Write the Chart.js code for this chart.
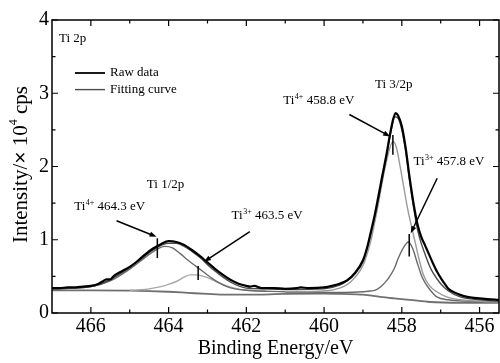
<!DOCTYPE html>
<html><head><meta charset="utf-8">
<script src="https://cdn.jsdelivr.net/npm/chart.js@4"></script>
<style>html,body{margin:0;padding:0;background:#fff}#wrap{width:500px;height:363px}</style>
</head><body><div id="wrap"><canvas id="c" width="500" height="363"></canvas></div>
<script>
// ---- tick labels ----
const xTicks = [466, 464, 462, 460, 458, 456];
const xMinor = [465, 463, 461, 459, 457];
const yTicks = [0, 1, 2, 3, 4];
const yMinor = [0.5, 1.5, 2.5, 3.5];

// ---- raw data (binding energy eV / intensity x10^4 cps) ----
const rawE = [467.0,466.8,466.6,466.4,466.2,466.0,465.8,465.7,465.6,465.5,465.4,465.2,465.0,464.8,464.6,464.4,464.2,464.0,463.8,463.6,463.4,463.2,463.0,462.8,462.6,462.4,462.2,462.0,461.9,461.8,461.6,461.3,461.0,460.7,460.6,460.4,460.0,459.8,459.6,459.4,459.2,459.0,458.9,458.8,458.7,458.6,458.5,458.4,458.3,458.22,458.16,458.1,458.0,457.9,457.8,457.7,457.6,457.5,457.4,457.3,457.2,457.1,457.0,456.9,456.8,456.6,456.4,456.2,456.0,455.8,455.5];
const rawI = [0.34,0.34,0.35,0.35,0.36,0.37,0.40,0.43,0.46,0.46,0.51,0.57,0.63,0.71,0.80,0.88,0.94,0.98,0.97,0.93,0.86,0.78,0.69,0.60,0.52,0.45,0.40,0.37,0.36,0.37,0.34,0.34,0.33,0.34,0.35,0.34,0.35,0.37,0.40,0.45,0.55,0.72,0.88,1.10,1.33,1.60,1.88,2.15,2.45,2.65,2.73,2.70,2.55,2.25,1.85,1.50,1.22,1.04,0.92,0.80,0.68,0.57,0.48,0.40,0.33,0.27,0.23,0.21,0.20,0.19,0.18];

// ---- fitting envelope ----
const fitE = [467.0,466.0,465.6,465.2,464.8,464.4,464.0,463.8,463.6,463.4,463.2,463.0,462.8,462.6,462.4,462.2,462.0,461.5,461.0,460.0,459.6,459.4,459.2,459.0,458.8,458.6,458.4,458.3,458.18,458.1,458.0,457.9,457.8,457.7,457.6,457.5,457.4,457.3,457.2,457.0,456.8,456.5,456.0,455.5];
const fitI = [0.33,0.36,0.43,0.55,0.70,0.86,0.95,0.95,0.91,0.84,0.76,0.66,0.57,0.49,0.42,0.37,0.34,0.33,0.32,0.33,0.38,0.44,0.54,0.70,1.07,1.56,2.12,2.42,2.68,2.66,2.50,2.20,1.80,1.45,1.15,0.95,0.80,0.66,0.55,0.40,0.30,0.22,0.18,0.16];

// ---- Ti4+ 2p3/2 component ----
const ti4p32E = [461.0,460.0,459.6,459.4,459.2,459.0,458.8,458.7,458.6,458.5,458.4,458.3,458.23,458.15,458.05,457.95,457.85,457.75,457.65,457.55,457.45,457.3,457.1,456.85,456.5,456.0,455.5];
const ti4p32I = [0.29,0.30,0.34,0.39,0.49,0.65,0.98,1.23,1.50,1.80,2.06,2.27,2.34,2.28,2.02,1.72,1.42,1.18,0.95,0.72,0.53,0.38,0.29,0.22,0.18,0.16,0.15];

// ---- Ti3+ 2p3/2 component ----
const ti3p32E = [461.0,459.5,459.0,458.8,458.65,458.5,458.35,458.2,458.09,457.95,457.83,457.72,457.6,457.5,457.4,457.25,457.1,456.8,456.3,455.5];
const ti3p32I = [0.28,0.28,0.29,0.30,0.32,0.38,0.47,0.60,0.75,0.90,0.97,0.88,0.68,0.52,0.41,0.30,0.22,0.18,0.16,0.15];

// ---- Ti4+ 2p1/2 component ----
const ti4p12E = [467.0,466.0,465.5,465.0,464.6,464.3,464.1,463.9,463.7,463.5,463.3,463.1,462.9,462.7,462.5,462.3,462.0,461.0];
const ti4p12I = [0.33,0.36,0.44,0.60,0.76,0.87,0.91,0.89,0.81,0.72,0.64,0.56,0.48,0.41,0.36,0.33,0.31,0.29];

// ---- Ti3+ 2p1/2 component ----
const ti3p12E = [465.0,464.6,464.4,464.2,464.0,463.8,463.6,463.45,463.3,463.1,462.9,462.7,462.5,462.3,462.0,461.5];
const ti3p12I = [0.31,0.32,0.34,0.36,0.39,0.43,0.49,0.52,0.52,0.50,0.46,0.41,0.37,0.34,0.31,0.30];

// ---- background ----
const bgE = [467.0,466.0,465.0,464.5,464.0,463.5,463.0,462.5,462.0,461.0,460.0,459.5,459.0,458.56,458.2,457.8,457.27,456.5,455.5];
const bgI = [0.31,0.31,0.305,0.30,0.29,0.275,0.26,0.25,0.25,0.26,0.265,0.26,0.25,0.22,0.20,0.18,0.15,0.14,0.14];

// ---- texts ----
const xTitle = 'Binding Energy/eV';
const yTitleParts = ['Intensity/', '×', ' 10', '4', ' cps'];
const legendLabels = ['Raw data', 'Fitting curve'];
const plainNotes = [
  {text: 'Ti 2p', x: 466.82, y: 3.70},
  {text: 'Ti 1/2p', x: 464.56, y: 1.71},
  {text: 'Ti 3/2p', x: 458.69, y: 3.07}
];
const ionNotes = [
  {ion: 'Ti', sup: '4+', rest: ' 464.3 eV', x: 466.43, y: 1.40},
  {ion: 'Ti', sup: '3+', rest: ' 463.5 eV', x: 462.38, y: 1.29},
  {ion: 'Ti', sup: '4+', rest: ' 458.8 eV', x: 461.05, y: 2.86},
  {ion: 'Ti', sup: '3+', rest: ' 457.8 eV', x: 457.70, y: 2.02}
];
const arrows = [
  {x1: 465.34, y1: 1.26, x2: 464.31, y2: 1.04},
  {x1: 461.91, y1: 1.11, x2: 463.09, y2: 0.70},
  {x1: 459.35, y1: 2.71, x2: 458.30, y2: 2.41},
  {x1: 457.09, y1: 1.84, x2: 457.77, y2: 1.09}
];
const markers = [
  {x: 464.29, y1: 1.02, y2: 0.75},
  {x: 463.24, y1: 0.64, y2: 0.45},
  {x: 458.23, y1: 2.43, y2: 2.16},
  {x: 457.81, y1: 1.08, y2: 0.77}
];

const FONT = '"Liberation Serif", "Times New Roman", serif';
function pts(E, I) { const n = Math.min(E.length, I.length); const o = []; for (let i = 0; i < n; i++) o.push({x: E[i], y: I[i]}); return o; }

function ds(label, E, I, color, width) {
  return {label, data: pts(E, I), borderColor: color, borderWidth: width, pointRadius: 0,
          fill: false, cubicInterpolationMode: 'monotone', borderJoinStyle: 'round'};
}

const datasets = [
  ds('Raw data', rawE, rawI, '#000000', 2.2),
  ds('Fitting curve', fitE, fitI, '#4a4a4a', 1.4),
  ds('Ti4+ 2p3/2', ti4p32E, ti4p32I, '#9a9a9a', 1.4),
  ds('Ti3+ 2p3/2', ti3p32E, ti3p32I, '#6a6a6a', 1.4),
  ds('Ti4+ 2p1/2', ti4p12E, ti4p12I, '#6a6a6a', 1.4),
  ds('Ti3+ 2p1/2', ti3p12E, ti3p12I, '#a8a8a8', 1.4),
  ds('Background', bgE, bgI, '#707070', 1.8)
];

function drawArrow(ctx, x1, y1, x2, y2) {
  const a = Math.atan2(y2 - y1, x2 - x1), L = 7, W = 2.6;
  ctx.beginPath(); ctx.moveTo(x1, y1); ctx.lineTo(x2 - L * 0.7 * Math.cos(a), y2 - L * 0.7 * Math.sin(a)); ctx.stroke();
  ctx.beginPath(); ctx.moveTo(x2, y2);
  ctx.lineTo(x2 - L * Math.cos(a) + W * Math.sin(a), y2 - L * Math.sin(a) - W * Math.cos(a));
  ctx.lineTo(x2 - L * Math.cos(a) - W * Math.sin(a), y2 - L * Math.sin(a) + W * Math.cos(a));
  ctx.closePath(); ctx.fill();
}

const deco = {
  id: 'deco',
  afterDraw(chart) {
    const ctx = chart.ctx, a = chart.chartArea, xs = chart.scales.x, ys = chart.scales.y;
    ctx.save();
    ctx.strokeStyle = '#000'; ctx.fillStyle = '#000';
    // frame
    ctx.lineWidth = 1.5;
    ctx.strokeRect(a.left, a.top, a.right - a.left, a.bottom - a.top);
    // ticks (inward, mirrored)
    ctx.lineWidth = 1.2;
    const tx = (v, len) => { const p = xs.getPixelForValue(v); ctx.beginPath(); ctx.moveTo(p, a.bottom); ctx.lineTo(p, a.bottom - len); ctx.moveTo(p, a.top); ctx.lineTo(p, a.top + len); ctx.stroke(); };
    const ty = (v, len) => { const p = ys.getPixelForValue(v); ctx.beginPath(); ctx.moveTo(a.left, p); ctx.lineTo(a.left + len, p); ctx.moveTo(a.right, p); ctx.lineTo(a.right - len, p); ctx.stroke(); };
    xTicks.forEach(v => tx(v, 6)); xMinor.forEach(v => tx(v, 3.5));
    yTicks.forEach(v => ty(v, 6)); yMinor.forEach(v => ty(v, 3.5));
    // y axis title (rotated, with superscript)
    ctx.save();
    ctx.translate(27, (a.top + a.bottom) / 2 - 2);
    ctx.rotate(-Math.PI / 2);
    ctx.textBaseline = 'alphabetic'; ctx.textAlign = 'left';
    const fonts = ['21px ' + FONT, '21px "Liberation Sans", Arial, sans-serif', '21px ' + FONT, '12px ' + FONT, '21px ' + FONT];
    const dys = [0, 0, 0, -10, 0];
    let tot = 0; const ws = [];
    yTitleParts.forEach((t, i) => { ctx.font = fonts[i]; const w = ctx.measureText(t).width; ws.push(w); tot += w; });
    let cx = -tot / 2;
    yTitleParts.forEach((t, i) => { ctx.font = fonts[i]; ctx.fillText(t, cx, dys[i]); cx += ws[i]; });
    ctx.restore();
    // legend
    ctx.font = '13px ' + FONT; ctx.textBaseline = 'middle'; ctx.textAlign = 'left';
    legendLabels.forEach((lab, i) => {
      const y = a.top + 53 + i * 16.6;
      ctx.strokeStyle = datasets[i].borderColor; ctx.lineWidth = i === 0 ? 1.8 : 1.4;
      ctx.beginPath(); ctx.moveTo(a.left + 23, y); ctx.lineTo(a.left + 53, y); ctx.stroke();
      ctx.fillStyle = '#000'; ctx.fillText(lab, a.left + 58, y);
    });
    ctx.strokeStyle = '#000'; ctx.fillStyle = '#000';
    // plain notes
    ctx.textBaseline = 'alphabetic';
    plainNotes.forEach(n => { ctx.font = '13px ' + FONT; ctx.fillText(n.text, xs.getPixelForValue(n.x), ys.getPixelForValue(n.y)); });
    // ion notes with superscript
    ionNotes.forEach(n => {
      let x = xs.getPixelForValue(n.x); const y = ys.getPixelForValue(n.y);
      ctx.font = '13px ' + FONT; ctx.fillText(n.ion, x, y); x += ctx.measureText(n.ion).width + 0.5;
      ctx.font = '8px ' + FONT; ctx.fillText(n.sup, x, y - 5); x += ctx.measureText(n.sup).width;
      ctx.font = '13px ' + FONT; ctx.fillText(n.rest, x, y);
    });
    // arrows
    ctx.lineWidth = 1.5;
    arrows.forEach(r => drawArrow(ctx, xs.getPixelForValue(r.x1), ys.getPixelForValue(r.y1), xs.getPixelForValue(r.x2), ys.getPixelForValue(r.y2)));
    // markers
    ctx.lineWidth = 1.5;
    markers.forEach(m => { const p = xs.getPixelForValue(m.x); ctx.beginPath(); ctx.moveTo(p, ys.getPixelForValue(m.y1)); ctx.lineTo(p, ys.getPixelForValue(m.y2)); ctx.stroke(); });
    ctx.restore();
  }
};

new Chart(document.getElementById('c'), {
  type: 'line',
  data: {datasets},
  plugins: [deco],
  options: {
    responsive: false, animation: false, devicePixelRatio: 1,
    layout: {padding: {top: 20, right: 1, left: 0, bottom: 0}},
    plugins: {legend: {display: false}, tooltip: {enabled: false}},
    scales: {
      x: {type: 'linear', reverse: true, min: 455.5, max: 467,
        afterBuildTicks: s => { s.ticks = xTicks.map(v => ({value: v})); },
        afterFit: s => { s.height = 50; },
        grid: {display: false, drawTicks: false}, border: {display: false},
        ticks: {font: {family: FONT, size: 20}, color: '#000', padding: 2, maxRotation: 0, autoSkip: false, callback: v => String(v)},
        title: {display: true, text: xTitle, font: {family: FONT, size: 20}, color: '#000', padding: {top: 0, bottom: 2}}
      },
      y: {type: 'linear', min: 0, max: 4,
        afterBuildTicks: s => { s.ticks = yTicks.map(v => ({value: v})); },
        afterFit: s => { s.width = 52; },
        grid: {display: false, drawTicks: false}, border: {display: false},
        ticks: {font: {family: FONT, size: 20}, color: '#000', padding: 3, autoSkip: false, callback: v => String(v)},
        title: {display: false}
      }
    }
  }
});
</script></body></html>
